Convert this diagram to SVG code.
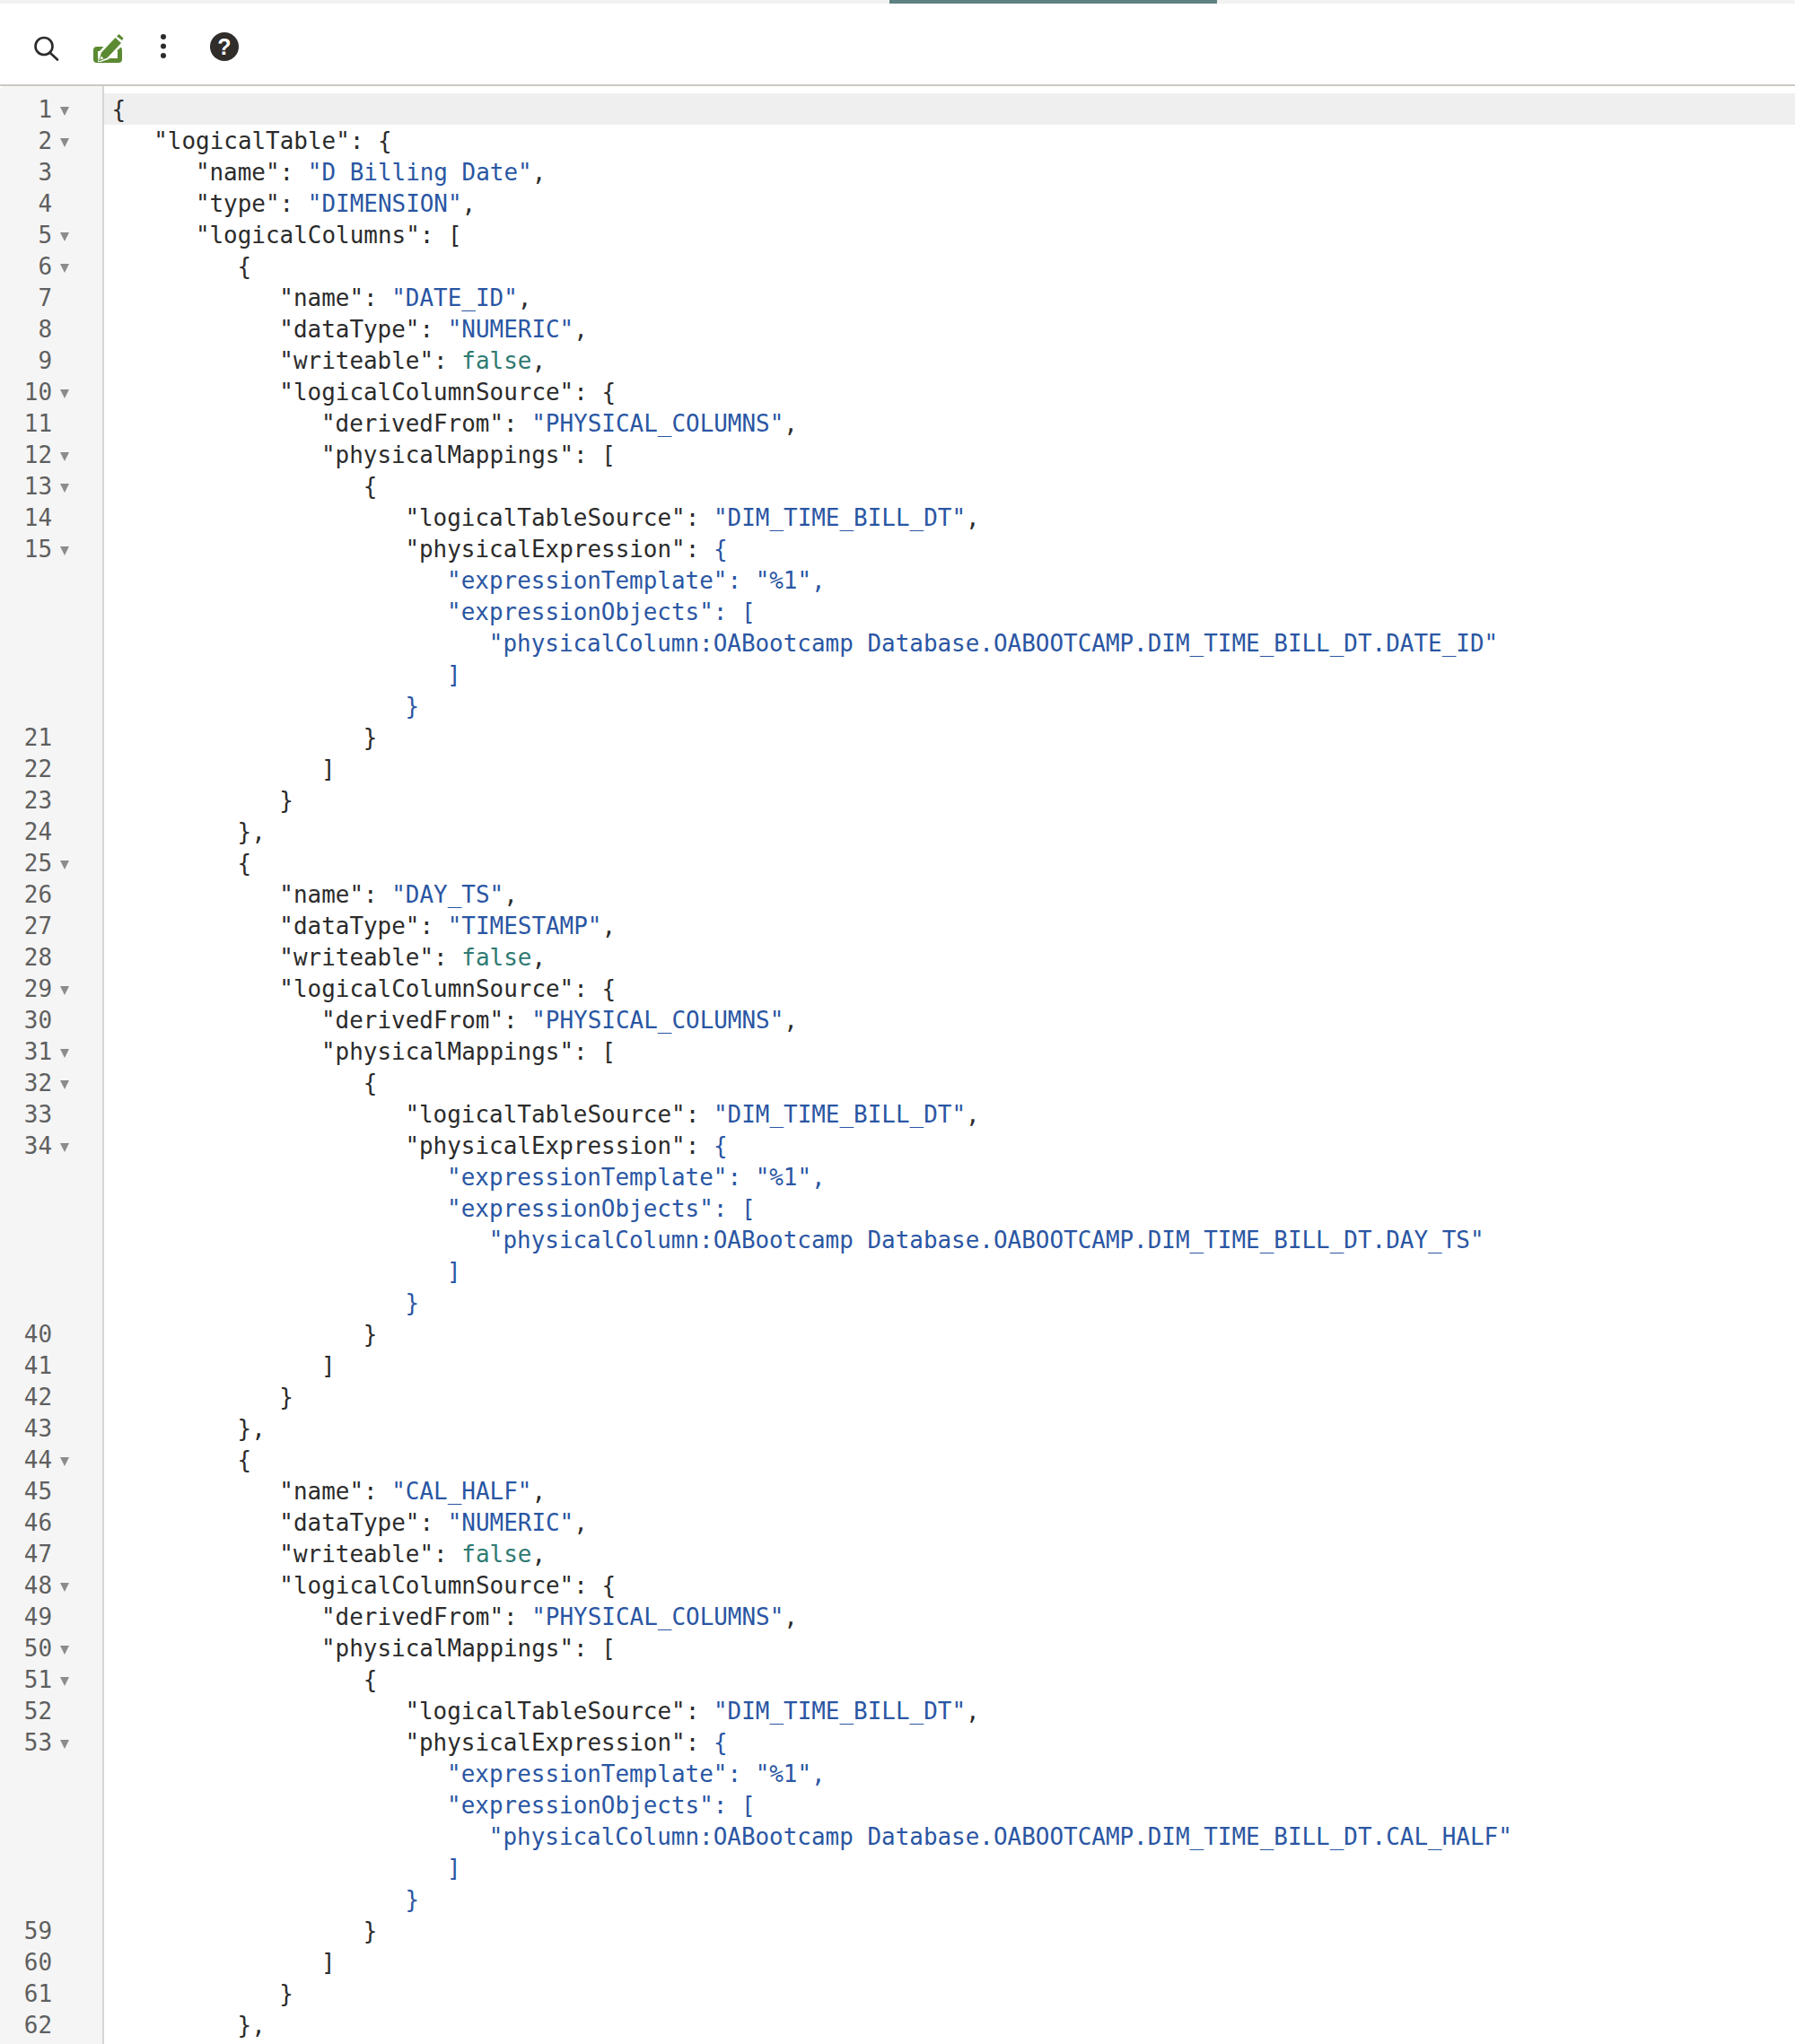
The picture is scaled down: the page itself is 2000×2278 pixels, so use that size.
<svg xmlns="http://www.w3.org/2000/svg" width="2000" height="2278" viewBox="0 0 2000 2278">
<style>
text{font-family:"DejaVu Sans Mono","Liberation Mono",monospace;font-size:25.94px;fill:#2b2b2b;white-space:pre}
.s,.s tspan{fill:#2a56a3}
tspan.s{fill:#2a56a3}
tspan.b{fill:#2f7a72}
.n{fill:#5f5f5f;text-anchor:end}
</style>
<defs>
<polygon id="tri" points="67,0 77,0 72,10" fill="#8c8c8c"/>
</defs>
<rect width="2000" height="2278" fill="#fff"/>
<g id="tabbar"><rect width="2000" height="4" fill="#f3f2f0"/><rect x="991" width="365" height="4" fill="#5f8182"/></g>
<g id="toolbar">
<g id="icon-search" fill="none" stroke="#2b2b2b" stroke-width="2.6"><circle cx="49" cy="51.5" r="9.5"/><path d="M56 59L64 66.5" stroke-linecap="round"/></g>
<g id="icon-edit"><rect x="106.5" y="54.500" width="27" height="13" rx="1.500" fill="none" stroke="#5c8a32" stroke-width="5"/><polygon points="109,69 111,57 127,39 139,48 121,66 112,69" fill="#fff"/><polygon points="110,68.500 113,58.500 128.500,42 135,48 119.500,64.500" fill="#5c8a32"/><polygon points="130,40.500 132.500,38 137.500,42.500 136,45" fill="#5c8a32"/><polygon points="111.500,66.500 112.800,62.500 115.500,65.200" fill="#fff"/></g>
<g id="icon-more" fill="#2b2b2b"><circle cx="182" cy="41" r="3"/><circle cx="182" cy="51.500" r="3"/><circle cx="182" cy="62" r="3"/></g>
<g id="icon-help"><circle cx="250" cy="52" r="16" fill="#312d2a"/><text x="250" y="61" text-anchor="middle" style="font-family:'Liberation Sans',sans-serif;font-weight:700;font-size:25px;fill:#fff">?</text></g>
</g>
<rect id="header-rule" y="94" width="2000" height="2" fill="#cdc8c3"/>
<path id="gutter" d="M0 102q0-6 6-6H114V2278H0z" fill="#f5f5f5"/>
<rect id="gutter-rule" x="114" y="96" width="2" height="2182" fill="#d6d6d6"/>
<rect id="active-line" x="116" y="104" width="1884" height="35" fill="#efefef"/>
<g id="line-numbers">
<text class="n" x="58" y="131">1</text><text class="n" x="58" y="166">2</text><text class="n" x="58" y="201">3</text><text class="n" x="58" y="236">4</text><text class="n" x="58" y="271">5</text>
<use href="#tri" y="119"/><use href="#tri" y="154"/><use href="#tri" y="259"/>
<g transform="translate(0,306)"><text class="n" x="58">6</text><text class="n" x="58" y="35">7</text><text class="n" x="58" y="70">8</text><text class="n" x="58" y="105">9</text><text class="n" x="58" y="140">10</text><text class="n" x="58" y="175">11</text><text class="n" x="58" y="210">12</text><text class="n" x="58" y="245">13</text><text class="n" x="58" y="280">14</text><text class="n" x="58" y="315">15</text><text class="n" x="58" y="525">21</text><text class="n" x="58" y="560">22</text><text class="n" x="58" y="595">23</text><text class="n" x="58" y="630">24</text>
<use href="#tri" y="-12"/><use href="#tri" y="128"/><use href="#tri" y="198"/><use href="#tri" y="233"/><use href="#tri" y="303"/></g>
<g transform="translate(0,971)"><text class="n" x="58">25</text><text class="n" x="58" y="35">26</text><text class="n" x="58" y="70">27</text><text class="n" x="58" y="105">28</text><text class="n" x="58" y="140">29</text><text class="n" x="58" y="175">30</text><text class="n" x="58" y="210">31</text><text class="n" x="58" y="245">32</text><text class="n" x="58" y="280">33</text><text class="n" x="58" y="315">34</text><text class="n" x="58" y="525">40</text><text class="n" x="58" y="560">41</text><text class="n" x="58" y="595">42</text><text class="n" x="58" y="630">43</text>
<use href="#tri" y="-12"/><use href="#tri" y="128"/><use href="#tri" y="198"/><use href="#tri" y="233"/><use href="#tri" y="303"/></g>
<g transform="translate(0,1636)"><text class="n" x="58">44</text><text class="n" x="58" y="35">45</text><text class="n" x="58" y="70">46</text><text class="n" x="58" y="105">47</text><text class="n" x="58" y="140">48</text><text class="n" x="58" y="175">49</text><text class="n" x="58" y="210">50</text><text class="n" x="58" y="245">51</text><text class="n" x="58" y="280">52</text><text class="n" x="58" y="315">53</text><text class="n" x="58" y="525">59</text><text class="n" x="58" y="560">60</text><text class="n" x="58" y="595">61</text><text class="n" x="58" y="630">62</text>
<use href="#tri" y="-12"/><use href="#tri" y="128"/><use href="#tri" y="198"/><use href="#tri" y="233"/><use href="#tri" y="303"/></g>
</g>
<g id="code">
<text x="124.500" y="131">{</text>
<text x="171.2" y="166">"logicalTable": {</text>
<text x="217.9" y="201">"name": <tspan class="s">"D Billing Date"</tspan>,</text>
<text x="217.9" y="236">"type": <tspan class="s">"DIMENSION"</tspan>,</text>
<text x="217.9" y="271">"logicalColumns": [</text>
<g id="col-1" transform="translate(0,306)">
<text x="264.6">{</text>
<text x="311.3" y="35">"name": <tspan class="s">"DATE_ID"</tspan>,</text>
<text x="311.3" y="70">"dataType": <tspan class="s">"NUMERIC"</tspan>,</text>
<text x="311.3" y="105">"writeable": <tspan class="b">false</tspan>,</text>
<text x="311.3" y="140">"logicalColumnSource": {</text>
<text x="358" y="175">"derivedFrom": <tspan class="s">"PHYSICAL_COLUMNS"</tspan>,</text>
<text x="358" y="210">"physicalMappings": [</text>
<text x="404.7" y="245">{</text>
<text x="451.4" y="280">"logicalTableSource": <tspan class="s">"DIM_TIME_BILL_DT"</tspan>,</text>
<text x="451.4" y="315">"physicalExpression": <tspan class="s">{</tspan></text>
<text class="s" x="498.1" y="350">"expressionTemplate": "%1",</text>
<text class="s" x="498.1" y="385">"expressionObjects": [</text>
<text class="s" x="544.8" y="420">"physicalColumn:OABootcamp Database.OABOOTCAMP.DIM_TIME_BILL_DT.DATE_ID"</text>
<text class="s" x="498.1" y="455">]</text>
<text class="s" x="451.4" y="490">}</text>
<text x="404.7" y="525">}</text>
<text x="358" y="560">]</text>
<text x="311.3" y="595">}</text>
<text x="264.6" y="630">},</text>
</g>
<g id="col-2" transform="translate(0,971)">
<text x="264.6">{</text>
<text x="311.3" y="35">"name": <tspan class="s">"DAY_TS"</tspan>,</text>
<text x="311.3" y="70">"dataType": <tspan class="s">"TIMESTAMP"</tspan>,</text>
<text x="311.3" y="105">"writeable": <tspan class="b">false</tspan>,</text>
<text x="311.3" y="140">"logicalColumnSource": {</text>
<text x="358" y="175">"derivedFrom": <tspan class="s">"PHYSICAL_COLUMNS"</tspan>,</text>
<text x="358" y="210">"physicalMappings": [</text>
<text x="404.7" y="245">{</text>
<text x="451.4" y="280">"logicalTableSource": <tspan class="s">"DIM_TIME_BILL_DT"</tspan>,</text>
<text x="451.4" y="315">"physicalExpression": <tspan class="s">{</tspan></text>
<text class="s" x="498.1" y="350">"expressionTemplate": "%1",</text>
<text class="s" x="498.1" y="385">"expressionObjects": [</text>
<text class="s" x="544.8" y="420">"physicalColumn:OABootcamp Database.OABOOTCAMP.DIM_TIME_BILL_DT.DAY_TS"</text>
<text class="s" x="498.1" y="455">]</text>
<text class="s" x="451.4" y="490">}</text>
<text x="404.7" y="525">}</text>
<text x="358" y="560">]</text>
<text x="311.3" y="595">}</text>
<text x="264.6" y="630">},</text>
</g>
<g id="col-3" transform="translate(0,1636)">
<text x="264.6">{</text>
<text x="311.3" y="35">"name": <tspan class="s">"CAL_HALF"</tspan>,</text>
<text x="311.3" y="70">"dataType": <tspan class="s">"NUMERIC"</tspan>,</text>
<text x="311.3" y="105">"writeable": <tspan class="b">false</tspan>,</text>
<text x="311.3" y="140">"logicalColumnSource": {</text>
<text x="358" y="175">"derivedFrom": <tspan class="s">"PHYSICAL_COLUMNS"</tspan>,</text>
<text x="358" y="210">"physicalMappings": [</text>
<text x="404.7" y="245">{</text>
<text x="451.4" y="280">"logicalTableSource": <tspan class="s">"DIM_TIME_BILL_DT"</tspan>,</text>
<text x="451.4" y="315">"physicalExpression": <tspan class="s">{</tspan></text>
<text class="s" x="498.1" y="350">"expressionTemplate": "%1",</text>
<text class="s" x="498.1" y="385">"expressionObjects": [</text>
<text class="s" x="544.8" y="420">"physicalColumn:OABootcamp Database.OABOOTCAMP.DIM_TIME_BILL_DT.CAL_HALF"</text>
<text class="s" x="498.1" y="455">]</text>
<text class="s" x="451.4" y="490">}</text>
<text x="404.7" y="525">}</text>
<text x="358" y="560">]</text>
<text x="311.3" y="595">}</text>
<text x="264.6" y="630">},</text>
</g>
</g>
</svg>
